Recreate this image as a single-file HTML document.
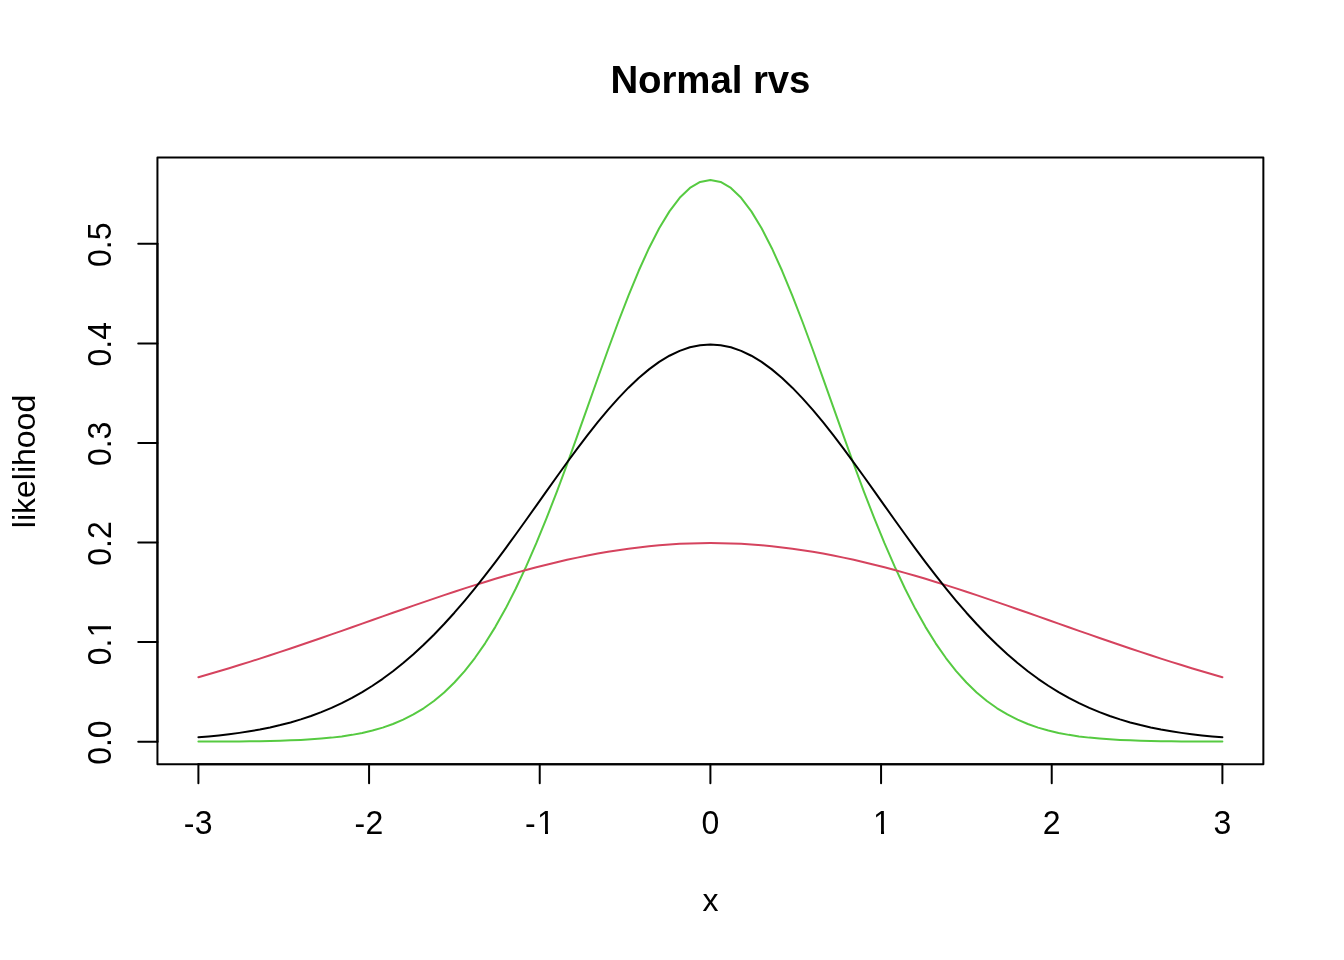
<!DOCTYPE html>
<html><head><meta charset="utf-8"><title>Normal rvs</title>
<style>
html,body{margin:0;padding:0;background:#fff;}
svg{display:block;}
text{font-family:"Liberation Sans",sans-serif;font-size:32px;fill:#000;}
.t{font-weight:bold;font-size:38.4px;letter-spacing:-0.06px;}
</style></head><body>
<svg width="1344" height="960" viewBox="0 0 1344 960">
<defs><clipPath id="km"><path clip-rule="evenodd" d="M-40,-40H40V12H-40Z M-1.47,-2.9H5.28V1.2H-1.47Z M8.30,-2.9H14.73V1.2H8.30Z"/></clipPath><clipPath id="kp"><path clip-rule="evenodd" d="M-40,-40H40V12H-40Z M-6.80,-2.9H-0.05V1.2H-6.80Z M2.97,-2.9H9.40V1.2H2.97Z"/></clipPath><clipPath id="ky"><path clip-rule="evenodd" d="M-40,-40H40V12H-40Z M6.95,-2.9H13.70V1.2H6.95Z M16.72,-2.9H23.15V1.2H16.72Z"/></clipPath></defs>
<rect width="1344" height="960" fill="#fff"/>
<g fill="none" stroke-width="2" stroke-linecap="round" stroke-linejoin="round">
<polyline points="198.40,741.62 208.64,741.59 218.88,741.55 229.12,741.49 239.36,741.41 249.60,741.31 259.84,741.16 270.08,740.97 280.32,740.71 290.56,740.37 300.80,739.92 311.04,739.34 321.28,738.58 331.52,737.62 341.76,736.40 352.00,734.86 362.24,732.93 372.48,730.55 382.72,727.61 392.96,724.03 403.20,719.69 413.44,714.48 423.68,708.28 433.92,700.97 444.16,692.41 454.40,682.48 464.64,671.06 474.88,658.03 485.12,643.32 495.36,626.85 505.60,608.59 515.84,588.53 526.08,566.70 536.32,543.21 546.56,518.17 556.80,491.78 567.04,464.28 577.28,435.96 587.52,407.17 597.76,378.29 608.00,349.75 618.24,322.00 628.48,295.52 638.72,270.76 648.96,248.20 659.20,228.26 669.44,211.36 679.68,197.82 689.92,187.94 700.16,181.93 710.40,179.91 720.64,181.93 730.88,187.94 741.12,197.82 751.36,211.36 761.60,228.26 771.84,248.20 782.08,270.76 792.32,295.52 802.56,322.00 812.80,349.75 823.04,378.29 833.28,407.17 843.52,435.96 853.76,464.28 864.00,491.78 874.24,518.17 884.48,543.21 894.72,566.70 904.96,588.53 915.20,608.59 925.44,626.85 935.68,643.32 945.92,658.03 956.16,671.06 966.40,682.48 976.64,692.41 986.88,700.97 997.12,708.28 1007.36,714.48 1017.60,719.69 1027.84,724.03 1038.08,727.61 1048.32,730.55 1058.56,732.93 1068.80,734.86 1079.04,736.40 1089.28,737.62 1099.52,738.58 1109.76,739.34 1120.00,739.92 1130.24,740.37 1140.48,740.71 1150.72,740.97 1160.96,741.16 1171.20,741.31 1181.44,741.41 1191.68,741.49 1201.92,741.55 1212.16,741.59 1222.40,741.62" stroke="#56CA41"/>
<polyline points="198.40,677.21 208.64,674.27 218.88,671.26 229.12,668.19 239.36,665.04 249.60,661.84 259.84,658.58 270.08,655.26 280.32,651.89 290.56,648.47 300.80,645.01 311.04,641.51 321.28,637.98 331.52,634.42 341.76,630.84 352.00,627.24 362.24,623.63 372.48,620.02 382.72,616.40 392.96,612.80 403.20,609.21 413.44,605.65 423.68,602.12 433.92,598.62 444.16,595.17 454.40,591.76 464.64,588.42 474.88,585.15 485.12,581.94 495.36,578.82 505.60,575.79 515.84,572.85 526.08,570.02 536.32,567.29 546.56,564.68 556.80,562.20 567.04,559.84 577.28,557.62 587.52,555.53 597.76,553.60 608.00,551.81 618.24,550.18 628.48,548.71 638.72,547.40 648.96,546.26 659.20,545.29 669.44,544.50 679.68,543.87 689.92,543.43 700.16,543.16 710.40,543.07 720.64,543.16 730.88,543.43 741.12,543.87 751.36,544.50 761.60,545.29 771.84,546.26 782.08,547.40 792.32,548.71 802.56,550.18 812.80,551.81 823.04,553.60 833.28,555.53 843.52,557.62 853.76,559.84 864.00,562.20 874.24,564.68 884.48,567.29 894.72,570.02 904.96,572.85 915.20,575.79 925.44,578.82 935.68,581.94 945.92,585.15 956.16,588.42 966.40,591.76 976.64,595.17 986.88,598.62 997.12,602.12 1007.36,605.65 1017.60,609.21 1027.84,612.80 1038.08,616.40 1048.32,620.02 1058.56,623.63 1068.80,627.24 1079.04,630.84 1089.28,634.42 1099.52,637.98 1109.76,641.51 1120.00,645.01 1130.24,648.47 1140.48,651.89 1150.72,655.26 1160.96,658.58 1171.20,661.84 1181.44,665.04 1191.68,668.19 1201.92,671.26 1212.16,674.27 1222.40,677.21" stroke="#D5435E"/>
<polyline points="198.40,737.28 208.64,736.42 218.88,735.41 229.12,734.24 239.36,732.88 249.60,731.31 259.84,729.51 270.08,727.44 280.32,725.09 290.56,722.42 300.80,719.39 311.04,715.98 321.28,712.16 331.52,707.89 341.76,703.15 352.00,697.89 362.24,692.10 372.48,685.75 382.72,678.80 392.96,671.25 403.20,663.08 413.44,654.27 423.68,644.82 433.92,634.74 444.16,624.04 454.40,612.72 464.64,600.83 474.88,588.40 485.12,575.47 495.36,562.09 505.60,548.33 515.84,534.27 526.08,519.99 536.32,505.57 546.56,491.12 556.80,476.74 567.04,462.54 577.28,448.64 587.52,435.15 597.76,422.20 608.00,409.89 618.24,398.34 628.48,387.68 638.72,377.99 648.96,369.38 659.20,361.93 669.44,355.73 679.68,350.84 689.92,347.30 700.16,345.17 710.40,344.45 720.64,345.17 730.88,347.30 741.12,350.84 751.36,355.73 761.60,361.93 771.84,369.38 782.08,377.99 792.32,387.68 802.56,398.34 812.80,409.89 823.04,422.20 833.28,435.15 843.52,448.64 853.76,462.54 864.00,476.74 874.24,491.12 884.48,505.57 894.72,519.99 904.96,534.27 915.20,548.33 925.44,562.09 935.68,575.47 945.92,588.40 956.16,600.83 966.40,612.72 976.64,624.04 986.88,634.74 997.12,644.82 1007.36,654.27 1017.60,663.08 1027.84,671.25 1038.08,678.80 1048.32,685.75 1058.56,692.10 1068.80,697.89 1079.04,703.15 1089.28,707.89 1099.52,712.16 1109.76,715.98 1120.00,719.39 1130.24,722.42 1140.48,725.09 1150.72,727.44 1160.96,729.51 1171.20,731.31 1181.44,732.88 1191.68,734.24 1201.92,735.41 1212.16,736.42 1222.40,737.28" stroke="#000000"/>
<g stroke="#000"><rect x="157.44" y="157.44" width="1105.92" height="606.72"/>
<path d="M198.40,764.16H1222.40"/>
<path d="M198.40,764.16v19.2"/>
<path d="M369.07,764.16v19.2"/>
<path d="M539.73,764.16v19.2"/>
<path d="M710.40,764.16v19.2"/>
<path d="M881.07,764.16v19.2"/>
<path d="M1051.73,764.16v19.2"/>
<path d="M1222.40,764.16v19.2"/>
<path d="M157.44,741.69V243.83"/>
<path d="M157.44,741.69h-19.2"/>
<path d="M157.44,642.12h-19.2"/>
<path d="M157.44,542.54h-19.2"/>
<path d="M157.44,442.97h-19.2"/>
<path d="M157.44,343.40h-19.2"/>
<path d="M157.44,243.83h-19.2"/>
</g></g>
<g text-anchor="middle">
<g transform="translate(198.40,833.8)"><text text-anchor="start" transform="scale(1,1.05)"><tspan x="-14.63" dy="0.7">-</tspan><tspan x="-3.57" dy="-0.7">3</tspan></text></g>
<g transform="translate(369.07,833.8)"><text text-anchor="start" transform="scale(1,1.05)"><tspan x="-14.63" dy="0.7">-</tspan><tspan x="-3.57" dy="-0.7">2</tspan></text></g>
<g transform="translate(539.73,833.8)" clip-path="url(#km)"><text text-anchor="start" transform="scale(1,1.05)"><tspan x="-14.63" dy="0.7">-</tspan><tspan x="-2.67" dy="-0.7">1</tspan></text></g>
<g transform="translate(710.40,833.8)"><text text-anchor="start" transform="scale(1,1.05)"><tspan x="-8.90">0</tspan></text></g>
<g transform="translate(881.07,833.8)" clip-path="url(#kp)"><text text-anchor="start" transform="scale(1,1.05)"><tspan x="-8.00">1</tspan></text></g>
<g transform="translate(1051.73,833.8)"><text text-anchor="start" transform="scale(1,1.05)"><tspan x="-8.90">2</tspan></text></g>
<g transform="translate(1222.40,833.8)"><text text-anchor="start" transform="scale(1,1.05)"><tspan x="-8.90">3</tspan></text></g>
<text transform="translate(110.8,742.59) rotate(-90) scale(1,1.05)">0.0</text>
<g transform="translate(110.8,643.02) rotate(-90)" clip-path="url(#ky)"><text text-anchor="start" transform="scale(1,1.05)"><tspan x="-22.24">0.</tspan><tspan x="5.75">1</tspan></text></g>
<text transform="translate(110.8,543.44) rotate(-90) scale(1,1.05)">0.2</text>
<text transform="translate(110.8,443.87) rotate(-90) scale(1,1.05)">0.3</text>
<text transform="translate(110.8,344.30) rotate(-90) scale(1,1.05)">0.4</text>
<text transform="translate(110.8,244.73) rotate(-90) scale(1,1.05)">0.5</text>
<text x="710.4" y="910.9">x</text>
<text transform="translate(34.56,461.50) rotate(-90)">likelihood</text>
<text class="t" x="710.4" y="92.9">Normal rvs</text>
</g></svg></body></html>
